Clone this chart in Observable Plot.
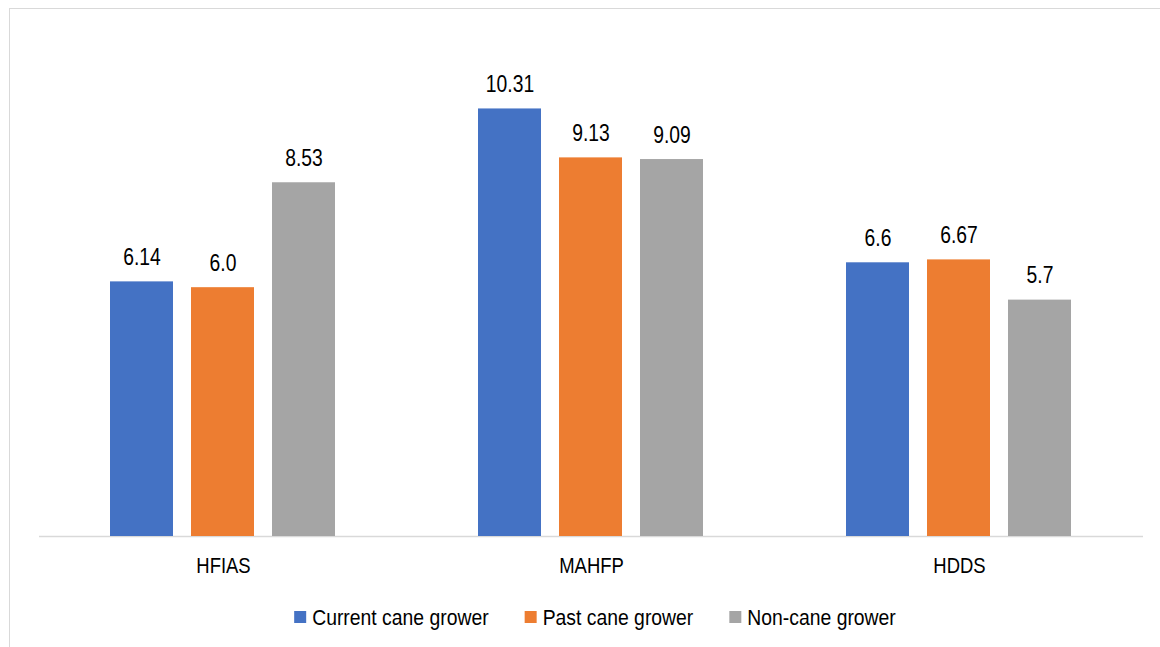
<!DOCTYPE html>
<html><head><meta charset="utf-8">
<script src="https://cdn.jsdelivr.net/npm/d3@7"></script>
<script src="https://cdn.jsdelivr.net/npm/@observablehq/plot@0.6"></script>
<style>
html,body{margin:0;padding:0;background:#fff;}
#wrap{position:relative;width:1160px;height:647px;overflow:hidden;font-family:"Liberation Sans",Arial,sans-serif;}
#frame{position:absolute;left:9px;top:8px;width:1200px;height:700px;border-left:1.5px solid #d9d9d9;border-top:1.5px solid #d9d9d9;box-sizing:border-box;pointer-events:none;}
#chart svg, #legend svg{display:block;}
</style></head><body>
<div id="wrap"><div id="chart"></div><div id="legend"></div><div id="frame"></div></div>
<script>
const categories = ["HFIAS", "MAHFP", "HDDS"];
const groups = ["Current cane grower", "Past cane grower", "Non-cane grower"];
const currentValues = [6.14, 10.31, 6.6];
const pastValues = [6.0, 9.13, 6.67];
const nonCaneValues = [8.53, 9.09, 5.7];
const currentLabels = ["6.14", "10.31", "6.6"];
const pastLabels = ["6.0", "9.13", "6.67"];
const nonCaneLabels = ["8.53", "9.09", "5.7"];
const colors = ["#4472C4", "#ED7D31", "#A5A5A5"];

const seriesValues = [currentValues, pastValues, nonCaneValues];
const seriesLabels = [currentLabels, pastLabels, nonCaneLabels];
const rows = [];
categories.forEach((c, i) => {
  groups.forEach((g, j) => {
    rows.push({category: c, group: g, value: seriesValues[j][i], label: seriesLabels[j][i]});
  });
});

function squeeze(svg, s) {
  svg.querySelectorAll("text").forEach(t => {
    const b = t.getBBox();
    const cx = b.x + b.width / 2;
    const tr = t.getAttribute("transform") || "";
    t.setAttribute("transform", `${tr} translate(${cx},0) scale(${s},1) translate(${-cx},0)`);
  });
}

const chart = Plot.plot({
  width: 1160,
  height: 590,
  marginTop: 0,
  marginLeft: 38,
  marginRight: 17,
  marginBottom: 54,
  style: {fontSize: "22px", fontFamily: "'Liberation Sans', Arial, sans-serif", color: "#000", background: "transparent"},
  facet: {data: rows, x: "category"},
  fx: {domain: categories, padding: 0, label: null, tickSize: 0, tickPadding: 21, axis: "bottom"},
  x: {domain: groups, paddingInner: 0.22, paddingOuter: 0.856, axis: null},
  y: {domain: [0, 12.925], axis: null},
  color: {domain: groups, range: colors},
  marks: [
    Plot.ruleY([0], {stroke: "#d9d9d9", strokeWidth: 1.5}),
    Plot.barY(rows, {x: "group", y: "value", fill: "group"}),
    Plot.text(rows, {x: "group", y: "value", text: "label", dy: -17, lineAnchor: "bottom", fill: "#000", fontSize: 23})
  ]
});
document.getElementById("chart").appendChild(chart);
squeeze(chart, 0.84);

// Legend
const lsvg = d3.create("svg").attr("width", 1160).attr("height", 57)
  .style("font-family", "'Liberation Sans', Arial, sans-serif").style("font-size", "22px");
const items = groups.map((g, j) => {
  const gEl = lsvg.append("g");
  const rect = gEl.append("rect").attr("width", 12).attr("height", 12).attr("y", 21).attr("fill", colors[j]);
  const text = gEl.append("text").attr("y", 35).attr("fill", "#000").text(g);
  return {gEl, rect, text};
});
document.getElementById("legend").appendChild(lsvg.node());
const ls = 0.88, sqW = 12, gapT = 6, gapItem = 36;
let widths = items.map(it => it.text.node().getComputedTextLength() * ls);
let total = widths.reduce((a, w) => a + sqW + gapT + w, 0) + gapItem * (items.length - 1);
let x = 595 - total / 2;
items.forEach((it, j) => {
  it.rect.attr("x", x);
  const tx = x + sqW + gapT;
  it.text.attr("x", 0).attr("transform", `translate(${tx},0) scale(${ls},1)`);
  x = tx + widths[j] + gapItem;
});
</script>
</body></html>
